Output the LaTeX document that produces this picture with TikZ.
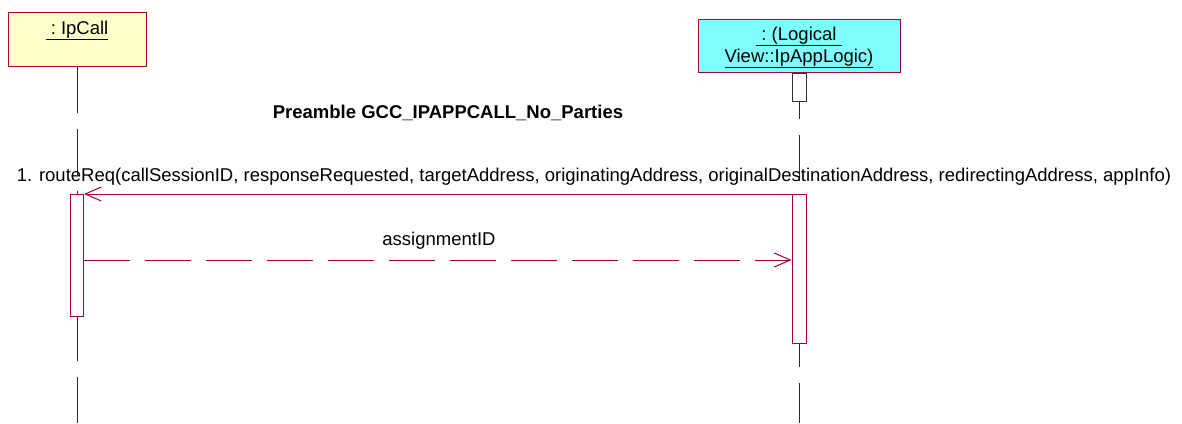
\documentclass[tikz,border=0pt]{standalone}
\usepackage{fontspec}
\setmainfont{Liberation Sans}
\usetikzlibrary{arrows.meta,calc}
\definecolor{umlred}{RGB}{165,0,60}
\definecolor{objyellow}{RGB}{255,255,204}
\definecolor{objcyan}{RGB}{128,255,255}
\tikzset{
  objbox/.style={draw=umlred, line width=1pt, inner sep=0pt},
  actbox/.style={draw=umlred, fill=white, line width=1pt, inner sep=0pt},
  lifeline/.style={draw=black!85, line width=1pt, dash pattern=on 46pt off 16pt},
  msg/.style={draw=umlred, line width=1pt, -{Straight Barb[length=16pt,width=14pt,line width=1pt]}},
  retmsg/.style={msg, dash pattern=on 46pt off 15pt},
  lbl/.style={inner sep=0pt, anchor=base, font=\fontsize{18.5}{22}\selectfont},
}
\begin{document}
\begin{tikzpicture}[x=1pt,y=-1pt]
\useasboundingbox (0,0) rectangle (1182,423);
\fill[white] (0,0) rectangle (1182,423);
% objects
\node[objbox, fill=objyellow, minimum width=138pt, minimum height=54pt, anchor=north] (ipcall) at (77,12) {};
\node[lbl] (ipcalltxt) at (77,34) {\underline{\ :\ IpCall}};
\node[objbox, fill=objcyan, minimum width=202pt, minimum height=53pt, anchor=north] (logic) at (799,19) {};
\node[lbl] (logictxt1) at (799,40) {\underline{\ :\ (Logical\ }};
\node[lbl] (logictxt2) at (799,62) {\underline{View::IpAppLogic)}};
% lifelines
\coordinate (endL) at (77,423);
\coordinate (endR) at (799,423);
\draw[lifeline] (ipcall.south) -- (endL);
\draw[lifeline] (logic.south) -- (endR);
% activations
\node[draw=black!80, fill=white, line width=1pt, inner sep=0pt, minimum width=14pt, minimum height=28pt, anchor=north] (actR0) at (799,73) {};
\node[actbox, minimum width=13pt, minimum height=122pt, anchor=north] (actL) at (77,194) {};
\node[actbox, minimum width=14pt, minimum height=149pt, anchor=north] (actR) at (799,194) {};
% title
\node[lbl, font=\fontsize{18.5}{22}\selectfont\bfseries] (title) at (448,118) {Preamble GCC\_IPAPPCALL\_No\_Parties};
% messages
\draw[msg] (actR.north west) -- (actL.north east);
\node[lbl] (m1) at (594,181) {1. routeReq(callSessionID, responseRequested, targetAddress, originatingAddress, originalDestinationAddress, redirectingAddress, appInfo)};
\coordinate (r1) at ($(actL.north east)+(0,66)$);
\coordinate (r2) at ($(actR.north west)+(0,66)$);
\draw[retmsg] (r1) -- (r2);
\node[lbl] (m2) at (439,245) {assignmentID};
\end{tikzpicture}
\end{document}
